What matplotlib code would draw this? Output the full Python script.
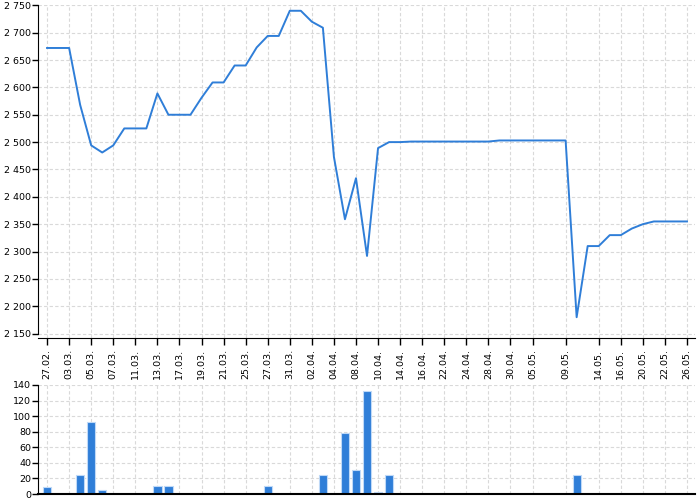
import numpy as np
import matplotlib
matplotlib.use("Agg")
import matplotlib.pyplot as plt
from matplotlib.ticker import FuncFormatter

# 交易日标签（每隔两个点一个）
tick_idx = [0, 2, 4, 6, 8, 10, 12, 14, 16, 18, 20, 22, 24, 26, 28, 30, 32, 34,
            36, 38, 40, 42, 44, 47, 50, 52, 54, 56, 58]
tick_labels = ["27.02.", "03.03.", "05.03.", "07.03.", "11.03.", "13.03.", "17.03.",
               "19.03.", "21.03.", "25.03.", "27.03.", "31.03.", "02.04.", "04.04.",
               "08.04.", "10.04.", "14.04.", "16.04.", "22.04.", "24.04.", "28.04.",
               "30.04.", "05.05.", "09.05.", "14.05.", "16.05.", "20.05.", "22.05.",
               "26.05."]

# 收盘价
price = [2672, 2672, 2672, 2568, 2494, 2481, 2494, 2525, 2525, 2525,
         2589, 2550, 2550, 2550, 2581, 2609, 2609, 2640, 2640, 2673,
         2694, 2694, 2740, 2740, 2720, 2709, 2473, 2359, 2434, 2292,
         2489, 2500, 2500, 2501, 2501, 2501, 2501, 2501, 2501, 2501,
         2501, 2503, 2503, 2503, 2503, 2503, 2503, 2503, 2180, 2310,
         2310, 2330, 2330, 2342, 2350, 2355, 2355, 2355, 2355]

# 成交量
volume = [9, 0, 0, 25, 93, 5, 0, 0, 0, 0,
          10, 10, 0, 0, 0, 0, 0, 0, 0, 0,
          10, 0, 0, 0, 0, 25, 0, 78, 31, 132,
          2, 25, 0, 0, 0, 0, 0, 0, 0, 0,
          0, 0, 0, 0, 0, 0, 0, 0, 25, 0,
          0, 0, 0, 0, 0, 0, 0, 0, 0]

blue = "#2f7ed8"
grid_kw = dict(color="#d9d9d9", linestyle=(0, (3, 2)), linewidth=0.8)
fs = 6.8

def space_fmt(v, pos):
    return "{:,.0f}".format(v).replace(",", " ")

x = np.arange(len(price))

fig = plt.figure(figsize=(7, 5), dpi=100)
ax1 = fig.add_axes([0.0543, 0.324, 0.9386, 0.6654])
ax2 = fig.add_axes([0.0543, 0.012, 0.9386, 0.218])

#====价格折线=======#
ax1.plot(x, price, color=blue, linewidth=1.4)
ax1.set_xlim(-0.82, 58.73)
ax1.set_ylim(2142, 2750)
ax1.set_yticks(np.arange(2150, 2751, 50))
ax1.yaxis.set_major_formatter(FuncFormatter(space_fmt))
ax1.set_xticks(tick_idx)
ax1.set_xticklabels(tick_labels, rotation=90)
ax1.spines["top"].set_visible(False)
ax1.spines["right"].set_visible(False)
ax1.spines["left"].set_bounds(2150, 2750)
ax1.grid(True, **grid_kw)
ax1.set_axisbelow(True)
ax1.tick_params(axis="y", labelsize=fs, length=4, width=1, pad=1)
ax1.tick_params(axis="x", labelsize=fs, length=5, width=1, pad=3)

#====成交量柱状图=======#
ax2.bar(x, volume, width=0.75, color=blue, edgecolor=(0.75, 0.85, 0.97), linewidth=0.8)
ax2.set_xlim(-0.82, 58.73)
ax2.set_ylim(0, 140)
ax2.set_yticks(np.arange(0, 141, 20))
ax2.set_xticks(tick_idx)
ax2.set_xticklabels([])
ax2.spines["top"].set_visible(False)
ax2.spines["right"].set_visible(False)
ax2.spines["bottom"].set_linewidth(1.5)
ax2.grid(True, **grid_kw)
ax2.set_axisbelow(True)
ax2.tick_params(axis="y", labelsize=fs, length=4, width=1, pad=1)
ax2.tick_params(axis="x", length=0)

fig.savefig("out.png", dpi=100)
